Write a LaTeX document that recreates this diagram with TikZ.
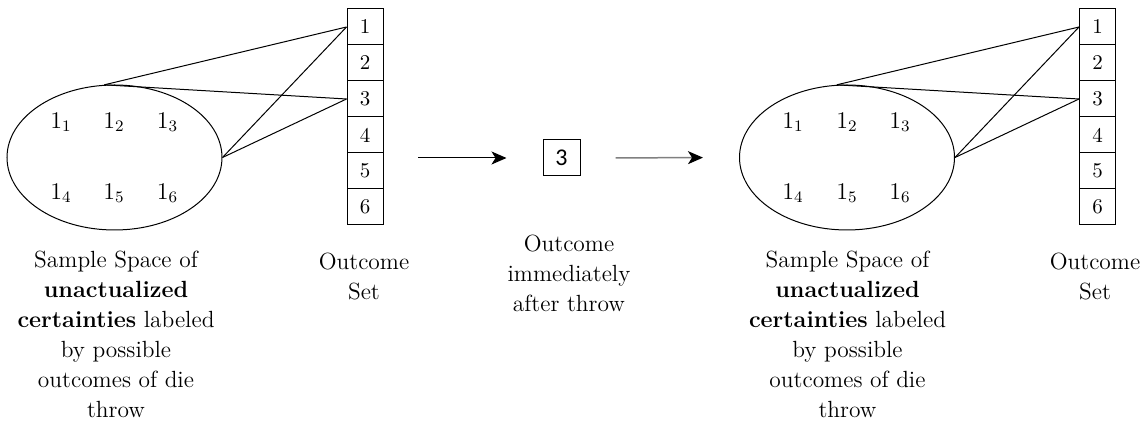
\documentclass[tikz,border=0pt]{standalone}
\usepackage{fontspec}
\newfontfamily\calfont{Carlito}
\usetikzlibrary{shapes.geometric,arrows.meta}

\begin{document}
\begin{tikzpicture}[x=0.5pt,y=-0.5pt,line width=0.5pt,
  space/.style={shape=ellipse,draw=black,minimum width=107.5pt,minimum height=72.5pt,inner sep=0},
  cell/.style={shape=rectangle,draw=black,minimum width=18pt,minimum height=18pt,inner sep=0,font=\fontsize{10.5}{13}\selectfont},
  elem/.style={inner sep=0,font=\fontsize{12}{15}\selectfont},
  caption/.style={align=center,inner sep=0,font=\fontsize{11.7}{15}\selectfont},
  arr/.style={-{Stealth[length=7.5pt,width=6.5pt,inset=2pt]}},
  arrG/.style={arr,draw=gray,line width=0.75pt,-{Stealth[length=7.5pt,width=6.5pt,inset=2pt,color=black]}}]
\def\dy{36};
\def\xl{365};
\def\xr{1097.5};

\useasboundingbox (0,0) rectangle (1147,421);

% left sample space
\node[space] (SL) at (114.5,157.5) {};
\node[elem] (L1) at (61,122) {1\textsubscript{1}};
\node[elem] (L2) at (114,122) {1\textsubscript{2}};
\node[elem] (L3) at (167.5,122) {1\textsubscript{3}};
\node[elem] (L4) at (61,193) {1\textsubscript{4}};
\node[elem] (L5) at (114,193) {1\textsubscript{5}};
\node[elem] (L6) at (167.5,193) {1\textsubscript{6}};

\node[cell] (OL1) at (\xl,27) {1};
\node[cell] (OL2) at (\xl,27+\dy) {2};
\node[cell] (OL3) at (\xl,27+2*\dy) {3};
\node[cell] (OL4) at (\xl,27+3*\dy) {4};
\node[cell] (OL5) at (\xl,27+4*\dy) {5};
\node[cell] (OL6) at (\xl,27+5*\dy) {6};

\draw (SL.98) -- (OL1.west);
\draw (SL.98) -- (OL3.west);
\draw (SL.east) -- (OL1.west);
\draw (SL.east) -- (OL3.west);

\node[caption] (SLt) at (116,334) {Sample Space of\\ \textbf{unactualized}\\ \textbf{certainties} labeled\\ by possible\\ outcomes of die\\ throw};
\node[caption] (OLt) at (364,277) {Outcome\\ Set};

% outcome
\node[cell,minimum width=18.5pt,font=\calfont\fontsize{12}{14}\selectfont] (M) at (561.5,158) {3};
\node[caption] (Mt) at (569,273) {Outcome\\ immediately\\ after throw};
\coordinate (a1) at (418,158);
\draw[arr,shorten >=18pt] (a1) -- (M.west);

% right sample space
\node[space] (SR) at (847,157.5) {};
\draw[arrG,shorten <=17.5pt,shorten >=18pt] (M.east) -- (SR.west);
\node[elem] (R1) at (793,122) {1\textsubscript{1}};
\node[elem] (R2) at (847,122) {1\textsubscript{2}};
\node[elem] (R3) at (900,122) {1\textsubscript{3}};
\node[elem] (R4) at (793,193) {1\textsubscript{4}};
\node[elem] (R5) at (847,193) {1\textsubscript{5}};
\node[elem] (R6) at (900,193) {1\textsubscript{6}};

\node[cell] (OR1) at (\xr,27) {1};
\node[cell] (OR2) at (\xr,27+\dy) {2};
\node[cell] (OR3) at (\xr,27+2*\dy) {3};
\node[cell] (OR4) at (\xr,27+3*\dy) {4};
\node[cell] (OR5) at (\xr,27+4*\dy) {5};
\node[cell] (OR6) at (\xr,27+5*\dy) {6};

\draw (SR.98) -- (OR1.west);
\draw (SR.98) -- (OR3.west);
\draw (SR.east) -- (OR1.west);
\draw (SR.east) -- (OR3.west);

\node[caption] (SRt) at (847.5,334) {Sample Space of\\ \textbf{unactualized}\\ \textbf{certainties} labeled\\ by possible\\ outcomes of die\\ throw};
\node[caption] (ORt) at (1095,277) {Outcome\\ Set};
\end{tikzpicture}
\end{document}
